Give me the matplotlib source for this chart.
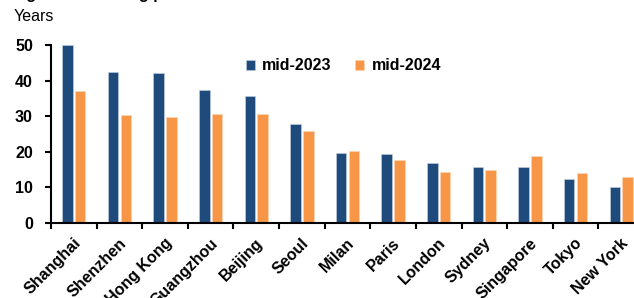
import matplotlib
matplotlib.use("Agg")
import matplotlib.pyplot as plt
import numpy as np

cities = ["Shanghai", "Shenzhen", "Hong Kong", "Guangzhou", "Beijing", "Seoul",
          "Milan", "Paris", "London", "Sydney", "Singapore", "Tokyo", "New York"]
mid_2023 = [50.0, 42.6, 42.1, 37.4, 35.7, 27.8, 19.6, 19.4, 16.7, 15.8, 15.6, 12.3, 10.0]
mid_2024 = [37.1, 30.4, 29.9, 30.7, 30.6, 25.8, 20.3, 17.6, 14.3, 14.9, 18.8, 13.9, 13.0]
yticks = [0, 10, 20, 30, 40, 50]

plt.rcParams['font.family'] = ['Liberation Sans', 'DejaVu Sans']

W, H = 634, 298
fig = plt.figure(figsize=(W / 100, H / 100), dpi=100)
ax = fig.add_axes([51 / W, (H - 222.7) / H, 593 / W, 177.4 / H])

blue = "#1f4a7c"
orange = "#f79646"
x = np.arange(len(cities)) + 0.5
bw = 0.23
ax.bar(x - 0.14, mid_2023, bw, color=blue, edgecolor="#c8d3e3", linewidth=0.4, label="mid-2023", zorder=2)
ax.bar(x + 0.14, mid_2024, bw, color=orange, edgecolor="#fcd6b5", linewidth=0.4, label="mid-2024", zorder=2)

ax.set_xlim(0, len(cities))
ax.set_ylim(0, 50)
ax.set_yticks(yticks)
ax.set_yticklabels([str(v) for v in yticks], fontsize=11.5, fontweight='bold')
ax.set_xticks(x + 0.1)
ax.set_xticklabels(cities, fontsize=11.5, fontweight='bold', rotation=45,
                   ha='right', va='center', rotation_mode='anchor')
ax.set_xticks(np.arange(len(cities) + 1), minor=True)
ax.tick_params(axis='x', which='major', length=0, pad=13)
ax.tick_params(axis='x', which='minor', length=4, width=1.5, direction='out', color='black')
ax.tick_params(axis='y', length=4, width=1.5, direction='out', pad=9, color='black')

for s in ['top', 'right']:
    ax.spines[s].set_visible(False)
for s in ['left', 'bottom']:
    ax.spines[s].set_linewidth(1.5)
    ax.spines[s].set_color('black')
ax.spines['bottom'].set_zorder(3)

leg = fig.legend(loc='center left', bbox_to_anchor=(246 / W, 1 - 66 / H), ncol=2,
                 frameon=False, prop={'weight': 'bold', 'size': 11.5},
                 handlelength=0.55, handleheight=0.55, handletextpad=0.45, columnspacing=1.5,
                 borderaxespad=0, borderpad=0)

fig.text(14 / W, 1 - 9 / H, "Years", fontsize=11.5, ha='left', va='top')
fig.text(12 / W, 1 + 0.5 / H, "Figure 1: Housing price-to-income ratio", fontsize=11.5,
         fontweight='bold', ha='left', va='baseline')

fig.savefig("out.png", dpi=100)
